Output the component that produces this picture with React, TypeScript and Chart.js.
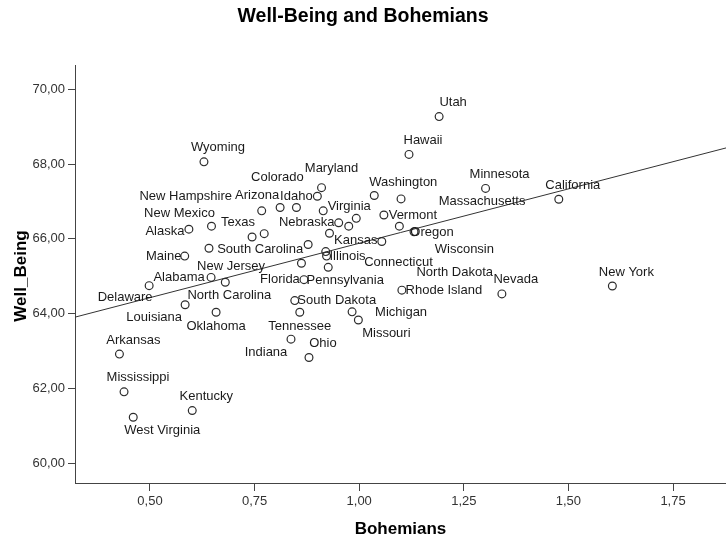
import React, { useEffect, useRef } from 'react';
import { Chart, registerables } from 'chart.js';
Chart.register(...registerables);

const states = ['Utah','Hawaii','Wyoming','Maryland','Idaho','Washington','Massachusetts','Minnesota','California','New Hampshire','Arizona','Colorado','Virginia','Montana','Nebraska','Iowa','Vermont','Wisconsin','Oregon','Alaska','New Mexico','Texas','Georgia','Connecticut','New Jersey','South Carolina','Kansas','Maine','North Dakota','Illinois','District of Columbia','Pennsylvania','Alabama','North Carolina','Delaware','Florida','Rhode Island','Nevada','New York','Louisiana','Oklahoma','South Dakota','Tennessee','Michigan','Missouri','Indiana','Ohio','Arkansas','Mississippi','Kentucky','West Virginia'];

const bohemians = [1.191,1.119,0.629,0.910,0.900,1.036,1.100,1.302,1.477,0.767,0.811,0.850,0.914,0.993,0.951,0.975,1.059,1.096,1.131,0.593,0.647,0.744,0.773,0.929,0.641,0.878,1.054,0.583,0.920,0.922,0.862,0.926,0.646,0.680,0.498,0.868,1.102,1.341,1.605,0.584,0.658,0.846,0.858,0.983,0.998,0.837,0.880,0.427,0.438,0.601,0.460];

const wellBeing = [69.27,68.26,68.06,67.37,67.14,67.16,67.07,67.35,67.06,66.75,66.84,66.84,66.75,66.55,66.43,66.34,66.64,66.34,66.19,66.26,66.34,66.05,66.14,66.15,65.75,65.85,65.93,65.54,65.66,65.54,65.35,65.24,64.97,64.84,64.75,64.91,64.63,64.53,64.74,64.24,64.04,64.35,64.04,64.05,63.83,63.32,62.83,62.92,61.91,61.41,61.23];

const xTicks = [0.5, 0.75, 1.0, 1.25, 1.5, 1.75];
const yTicks = [60, 62, 64, 66, 68, 70];
const xRange = [0.3208, 1.8766];
const yRange = [59.473, 70.65];
const fitIntercept = 62.975;
const fitSlope = 2.908;

const chartTitle = 'Well-Being and Bohemians';
const xTitle = 'Bohemians';
const yTitle = 'Well_Being';

// label placement relative to each point (pixels), layout only
const labelOffsets: Record<string, [number, number]> = {
  'Utah': [14, -14], 'Hawaii': [14, -14], 'Wyoming': [14, -14], 'Maryland': [10, -19],
  'Idaho': [-21, 0], 'Washington': [29, -13], 'Massachusetts': [81, 3], 'Minnesota': [14, -14],
  'California': [14, -14], 'New Hampshire': [-76, -14], 'Arizona': [-23, -12], 'Colorado': [-19, -30],
  'Virginia': [26, -4], 'Nebraska': [-32, 0], 'Vermont': [29, 0], 'Wisconsin': [65, 23],
  'Oregon': [18, 1], 'Alaska': [-24, 2], 'New Mexico': [-32, -13], 'Texas': [-14, -15],
  'Connecticut': [69, 29], 'New Jersey': [22, 18], 'South Carolina': [-48, 5], 'Kansas': [-26, -1],
  'Maine': [-21, 0], 'North Dakota': [129, 21], 'Illinois': [21, 0], 'Pennsylvania': [17, 13],
  'Alabama': [-32, 0], 'North Carolina': [4, 13], 'Delaware': [-24, 12], 'Florida': [-24, 0],
  'Rhode Island': [42, 0], 'Nevada': [14, -14], 'New York': [14, -14], 'Louisiana': [-31, 13],
  'Oklahoma': [0, 14], 'South Dakota': [42, 0], 'Tennessee': [0, 14], 'Michigan': [49, 1],
  'Missouri': [28, 13], 'Indiana': [-25, 13], 'Ohio': [14, -14], 'Arkansas': [14, -14],
  'Mississippi': [14, -14], 'Kentucky': [14, -14], 'West Virginia': [29, 13],
};

const FONT = '"Liberation Sans", Arial, sans-serif';
const fmt = (v: number) => Number(v).toFixed(2).replace('.', ',');

const textPlugin = {
  id: 'textPlugin',
  afterDatasetsDraw(chart: any) {
    const ctx = chart.ctx;
    const meta = chart.getDatasetMeta(0);
    const area = chart.chartArea;
    ctx.save();
    ctx.fillStyle = '#1a1a1a';
    ctx.textAlign = 'center';
    ctx.textBaseline = 'middle';
    ctx.font = `13px ${FONT}`;
    states.forEach((s, i) => {
      const off = labelOffsets[s];
      const el = meta.data[i];
      if (!off || !el) return;
      ctx.fillText(s, el.x + off[0], el.y + off[1]);
    });
    ctx.fillStyle = '#000';
    ctx.font = `bold 19.5px ${FONT}`;
    ctx.fillText(chartTitle, chart.width / 2, 16.5);
    ctx.font = `bold 17px ${FONT}`;
    ctx.fillText(xTitle, (area.left + area.right) / 2, 529);
    ctx.translate(21, (area.top + area.bottom) / 2 + 2);
    ctx.rotate(-Math.PI / 2);
    ctx.fillText(yTitle, 0, 0);
    ctx.restore();
  },
};

export default function App() {
  const ref = useRef<HTMLCanvasElement>(null);
  useEffect(() => {
    if (!ref.current) return;
    const points = bohemians.map((b, i) => ({ x: b, y: wellBeing[i] }));
    const linePts = xRange.map((x) => ({ x, y: fitIntercept + fitSlope * x }));
    const axisColor = '#444';
    const tickFont = { family: FONT, size: 13 };
    const chart = new Chart(ref.current, {
      type: 'scatter',
      data: {
        datasets: [
          {
            data: points,
            pointRadius: 3.9,
            pointBorderWidth: 1.2,
            pointBorderColor: '#2b2b2b',
            pointBackgroundColor: 'rgba(0,0,0,0)',
            pointStyle: 'circle',
          } as any,
          {
            type: 'line',
            data: linePts,
            borderColor: '#333',
            borderWidth: 1,
            pointRadius: 0,
            fill: false,
          } as any,
        ],
      },
      options: {
        responsive: false,
        maintainAspectRatio: false,
        animation: false,
        devicePixelRatio: 1,
        events: [],
        layout: { autoPadding: false, padding: { top: 65, left: 0, right: 0, bottom: 0 } },
        plugins: { legend: { display: false }, tooltip: { enabled: false }, title: { display: false } },
        scales: {
          x: {
            type: 'linear',
            min: xRange[0],
            max: xRange[1],
            afterBuildTicks: (s: any) => { s.ticks = xTicks.map((v) => ({ value: v })); },
            afterFit: (s: any) => { s.height = 61; },
            grid: { display: true, drawOnChartArea: false, drawTicks: true, tickLength: 8, color: axisColor, lineWidth: 1 },
            border: { display: true, color: axisColor, width: 1 },
            ticks: { padding: 3, color: '#333', font: tickFont, maxRotation: 0, autoSkip: false, callback: (v: any) => fmt(v) },
          },
          y: {
            type: 'linear',
            min: yRange[0],
            max: yRange[1],
            afterBuildTicks: (s: any) => { s.ticks = yTicks.map((v) => ({ value: v })); },
            afterFit: (s: any) => { s.width = 75; },
            grid: { display: true, drawOnChartArea: false, drawTicks: true, tickLength: 7, color: axisColor, lineWidth: 1 },
            border: { display: true, color: axisColor, width: 1 },
            ticks: { padding: 3, color: '#333', font: tickFont, autoSkip: false, callback: (v: any) => fmt(v) },
          },
        },
      } as any,
      plugins: [textPlugin],
    });
    return () => chart.destroy();
  }, []);
  return (
    <div style={{ position: 'absolute', left: 0, top: 0, width: 726, height: 544, background: '#fff' }}>
      <canvas ref={ref} width={726} height={544} style={{ display: 'block' }} />
    </div>
  );
}
